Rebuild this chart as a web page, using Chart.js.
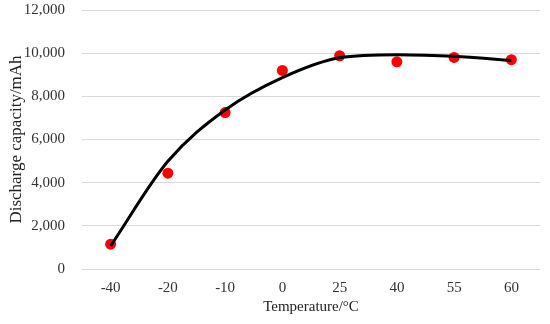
<!DOCTYPE html>
<html>
<head>
<meta charset="utf-8">
<script src="https://cdn.jsdelivr.net/npm/chart.js@4.4.0/dist/chart.umd.min.js"></script>
<style>
html,body{margin:0;padding:0;background:#fff;}
#wrap{width:550px;height:324px;position:relative;}
</style>
</head>
<body>
<div id="wrap"><canvas id="c" width="550" height="324"></canvas></div>
<script>
const temperatures = ['-40', '-20', '-10', '0', '25', '40', '55', '60'];
const capacity = [1150, 4440, 7250, 9200, 9880, 9600, 9800, 9700];
const trendValues = [1070, 4990, 7370, 8870, 9790, 9930, 9860, 9660];
const yTicks = [0, 2000, 4000, 6000, 8000, 10000, 12000];

const serif = "'Liberation Serif', 'Times New Roman', serif";

new Chart(document.getElementById('c'), {
  type: 'line',
  data: {
    labels: temperatures,
    datasets: [
      {
        label: 'Trend',
        data: trendValues,
        borderColor: '#000000',
        borderWidth: 3,
        pointRadius: 0,
        cubicInterpolationMode: 'monotone',
        fill: false,
        order: 0
      },
      {
        label: 'Discharge capacity',
        data: capacity,
        showLine: false,
        pointRadius: 5.5,
        pointBackgroundColor: '#ff0000',
        pointBorderColor: '#ff0000',
        pointBorderWidth: 0,
        order: 1
      }
    ]
  },
  options: {
    responsive: false,
    animation: false,
    layout: { autoPadding: false, padding: { left: 0, right: 10, top: 10, bottom: 0 } },
    plugins: { legend: { display: false }, tooltip: { enabled: false } },
    scales: {
      x: {
        offset: true,
        grid: { display: false },
        border: { display: false },
        afterFit: (scale) => { scale.height = 55; },
        ticks: { color: '#333', font: { family: serif, size: 15 }, padding: 2, maxRotation: 0 },
        title: { display: true, text: 'Temperature/°C', color: '#222', font: { family: serif, size: 15 }, padding: { top: 2, bottom: 8 } }
      },
      y: {
        min: 0,
        max: 12000,
        afterBuildTicks: (scale) => { scale.ticks = yTicks.map(v => ({ value: v })); },
        afterFit: (scale) => { scale.width = 82; scale.paddingTop = 0; scale.paddingBottom = 0; },
        grid: { color: '#d9d9d9', lineWidth: 1, drawTicks: false },
        border: { display: false },
        ticks: {
          color: '#333',
          font: { family: serif, size: 15 },
          padding: 17,
          callback: (v) => v.toLocaleString('en-US')
        },
        title: { display: true, text: 'Discharge capacity/mAh', color: '#222', font: { family: serif, size: 17 }, padding: { top: 6, bottom: 0 } }
      }
    }
  }
});
</script>
</body>
</html>
